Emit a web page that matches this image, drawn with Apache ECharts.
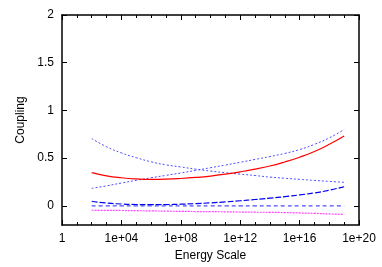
<!DOCTYPE html>
<html><head><meta charset="utf-8">
<script src="https://cdn.jsdelivr.net/npm/echarts@6/dist/echarts.min.js"></script>
<style>html,body{margin:0;padding:0;background:#fff}#c{width:382px;height:267px}</style>
</head><body><div id="c"></div>
<script>
// log10 of energy scale
const energyExp = [2,3,4,5,6,7,8,9,10,11,12,13,14,15,16,17,18,19];
const couplingA = [0.705,0.62,0.555,0.505,0.462,0.43,0.408,0.385,0.365,0.348,0.333,0.318,0.302,0.29,0.278,0.267,0.257,0.247];
const couplingB = [0.184,0.21,0.24,0.268,0.295,0.32,0.345,0.372,0.40,0.428,0.457,0.487,0.517,0.55,0.59,0.645,0.713,0.80];
const couplingC = [0.348,0.315,0.295,0.283,0.278,0.28,0.287,0.298,0.313,0.333,0.357,0.385,0.418,0.46,0.51,0.57,0.645,0.732];
const couplingD = [0.049,0.03,0.02,0.015,0.013,0.014,0.018,0.024,0.032,0.042,0.054,0.067,0.081,0.097,0.115,0.136,0.165,0.201];
const couplingE = [0,0,0,0,0,0,0,0,0,0,0,0,0,0,0,0,0,0];
const couplingF = [-0.045,-0.047,-0.048,-0.05,-0.052,-0.055,-0.057,-0.059,-0.06,-0.062,-0.064,-0.066,-0.067,-0.07,-0.074,-0.078,-0.084,-0.09];
const xTickExps = [0,4,8,12,16,20];
const yTicks = [0,0.5,1,1.5,2];

function fmtX(v){ if(v===0) return '1'; return '1e+' + (v<10?'0':'') + v; }
function pairs(arr){ return energyExp.map((e,i)=>[e,arr[i]]); }

const font = 'Liberation Sans, Arial, sans-serif';
const chart = echarts.init(document.getElementById('c'), null, {renderer:'canvas'});
const axisLine = {show:true, onZero:false, lineStyle:{color:'#000', width:1.5}};
const tickStyle = {color:'#000', width:1};
chart.setOption({
  animation:false,
  grid:{left:62, right:23, top:15, bottom:41, show:false},
  xAxis:[{
    type:'value', min:0, max:20, interval:4, position:'bottom',
    name:'Energy Scale', nameLocation:'middle', nameGap:25,
    nameTextStyle:{fontFamily:font, fontSize:12, color:'#000'},
    axisLine:axisLine,
    axisTick:{show:true, inside:true, length:5, lineStyle:tickStyle},
    minorTick:{show:true, splitNumber:4, length:3, lineStyle:tickStyle},
    axisLabel:{fontFamily:font, fontSize:12, color:'#000', margin:8, formatter:fmtX},
    splitLine:{show:false}
  },{
    type:'value', min:0, max:20, interval:4, position:'top',
    axisLine:axisLine,
    axisTick:{show:true, inside:true, length:5, lineStyle:tickStyle},
    minorTick:{show:true, splitNumber:4, length:3, lineStyle:tickStyle},
    axisLabel:{show:false}, splitLine:{show:false}
  }],
  yAxis:[{
    type:'value', min:-0.2, max:2, position:'left',
    name:'Coupling', nameLocation:'middle', nameGap:24, nameRotate:90,
    nameTextStyle:{fontFamily:font, fontSize:12, color:'#000'},
    axisLine:axisLine,
    axisTick:{show:true, inside:true, length:5, customValues:yTicks, lineStyle:tickStyle},
    axisLabel:{fontFamily:font, fontSize:12, color:'#000', margin:8, customValues:yTicks},
    splitLine:{show:false}
  },{
    type:'value', min:-0.2, max:2, position:'right',
    axisLine:axisLine,
    axisTick:{show:true, inside:true, length:5, customValues:yTicks, lineStyle:tickStyle},
    axisLabel:{show:false, customValues:yTicks}, splitLine:{show:false}
  }],
  series:[
    {type:'line', data:pairs(couplingA), showSymbol:false, smooth:true, lineStyle:{color:'#4d4dff', width:1, type:[2,2]}},
    {type:'line', data:pairs(couplingB), showSymbol:false, smooth:true, lineStyle:{color:'#4d4dff', width:1, type:[2,2]}},
    {type:'line', data:pairs(couplingC), showSymbol:false, smooth:true, lineStyle:{color:'#ff0000', width:1.2}},
    {type:'line', data:pairs(couplingD), showSymbol:false, smooth:true, lineStyle:{color:'#0000ee', width:1.2, type:[6,2]}},
    {type:'line', data:pairs(couplingE), showSymbol:false, smooth:true, lineStyle:{color:'#4d4dff', width:1.2, type:[4,3]}},
    {type:'line', data:pairs(couplingF), showSymbol:false, smooth:true, lineStyle:{color:'#ff44ff', width:1.2, type:[2,1]}}
  ]
});
</script></body></html>
